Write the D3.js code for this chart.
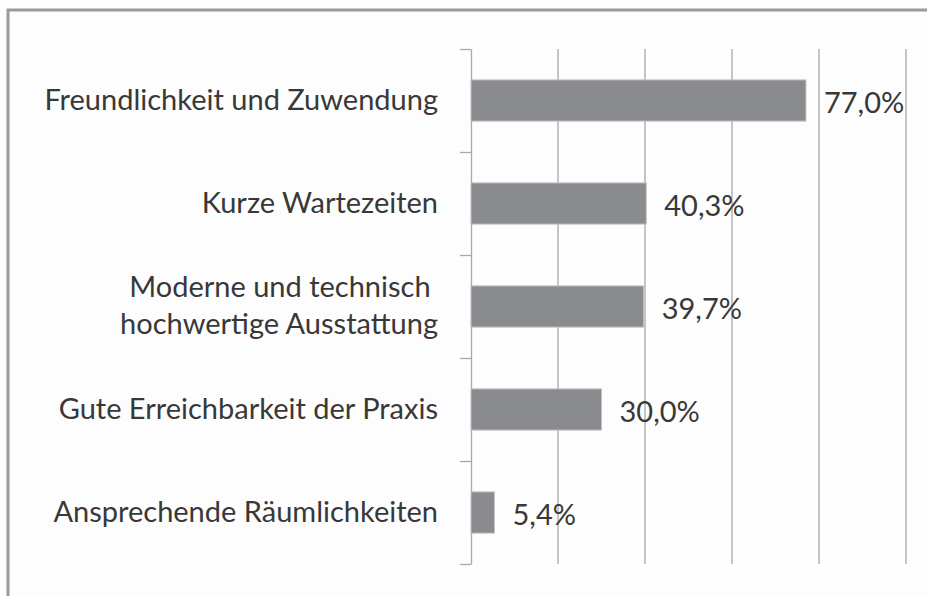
<!DOCTYPE html>
<html>
<head>
<meta charset="utf-8">
<script src="https://cdn.jsdelivr.net/npm/d3@7"></script>
<style>
html,body{margin:0;padding:0;background:#fdfdfd;}
svg{display:block;}
</style>
</head>
<body>
<svg id="chart" width="927" height="596"></svg>
<script>
const categories = [
  ["Freundlichkeit und Zuwendung"],
  ["Kurze Wartezeiten"],
  ["Moderne und technisch ", "hochwertige Ausstattung"],
  ["Gute Erreichbarkeit der Praxis"],
  ["Ansprechende Räumlichkeiten"]
];
const values = [77.0, 40.3, 39.7, 30.0, 5.4];
const valueLabels = ["77,0%", "40,3%", "39,7%", "30,0%", "5,4%"];
const gridTicks = [20, 40, 60, 80, 100];

const svg = d3.select("#chart");
const W = 927, H = 596;
const margin = {left: 471, right: 21, top: 49, bottom: 32};
const fontFamily = "Lato, 'Open Sans', sans-serif";

svg.append("rect").attr("x", 0).attr("y", 0).attr("width", W).attr("height", H).attr("fill", "#fdfdfd");
// outer frame (only top & left visible in reference)
svg.append("rect").attr("x", 8).attr("y", 10).attr("width", 1000).attr("height", 1000)
  .attr("fill", "none").attr("stroke", "#9a9a9a").attr("stroke-width", 3);

const x = d3.scaleLinear().domain([0, 100]).range([margin.left, W - margin.right]);
const idx = d3.range(categories.length);
const y = d3.scaleBand().domain(idx).range([margin.top, H - margin.bottom]).paddingInner(0.6).paddingOuter(0.3);
const yb = d3.scaleLinear().domain([0, categories.length]).range([margin.top, H - margin.bottom]);

// gridlines
svg.append("g").selectAll("line").data(gridTicks).join("line")
  .attr("x1", d => x(d)).attr("x2", d => x(d))
  .attr("y1", margin.top).attr("y2", H - margin.bottom)
  .attr("stroke", "#a8a8a8").attr("stroke-width", 1.3);

// y axis with boundary ticks
const yAxis = d3.axisLeft(yb).tickValues(d3.range(categories.length + 1)).tickSize(11).tickSizeOuter(0).tickFormat("");
const ga = svg.append("g").attr("transform", `translate(${margin.left},0)`).call(yAxis);
ga.select(".domain").attr("stroke", "#a8a8a8").attr("stroke-width", 1.3);
ga.selectAll(".tick line").attr("stroke", "#a8a8a8").attr("stroke-width", 1.3);

// bars
svg.append("g").selectAll("rect").data(values).join("rect")
  .attr("x", x(0)).attr("y", (d, i) => y(i))
  .attr("width", d => x(d) - x(0)).attr("height", y.bandwidth())
  .attr("fill", "#8a8b8e").attr("stroke", "#c4c4c6").attr("stroke-width", 1);

// value labels
svg.append("g").selectAll("text").data(values).join("text")
  .attr("x", d => x(d) + 18)
  .attr("y", (d, i) => y(i) + y.bandwidth() / 2 + 12)
  .attr("font-family", fontFamily).attr("font-size", 29).attr("fill", "#383838")
  .text((d, i) => valueLabels[i]);

// category labels
const cl = svg.append("g").selectAll("text").data(categories).join("text")
  .attr("text-anchor", "end")
  .attr("font-family", fontFamily).attr("font-size", 29).attr("fill", "#383838")
  .attr("y", (d, i) => y(i) + y.bandwidth() / 2 + 9 - (d.length - 1) * 18.5);
cl.selectAll("tspan").data(d => d).join("tspan")
  .attr("x", 438)
  .attr("dy", (d, j) => j === 0 ? 0 : 37)
  .attr("xml:space", "preserve")
  .text(d => d);
</script>
</body>
</html>
